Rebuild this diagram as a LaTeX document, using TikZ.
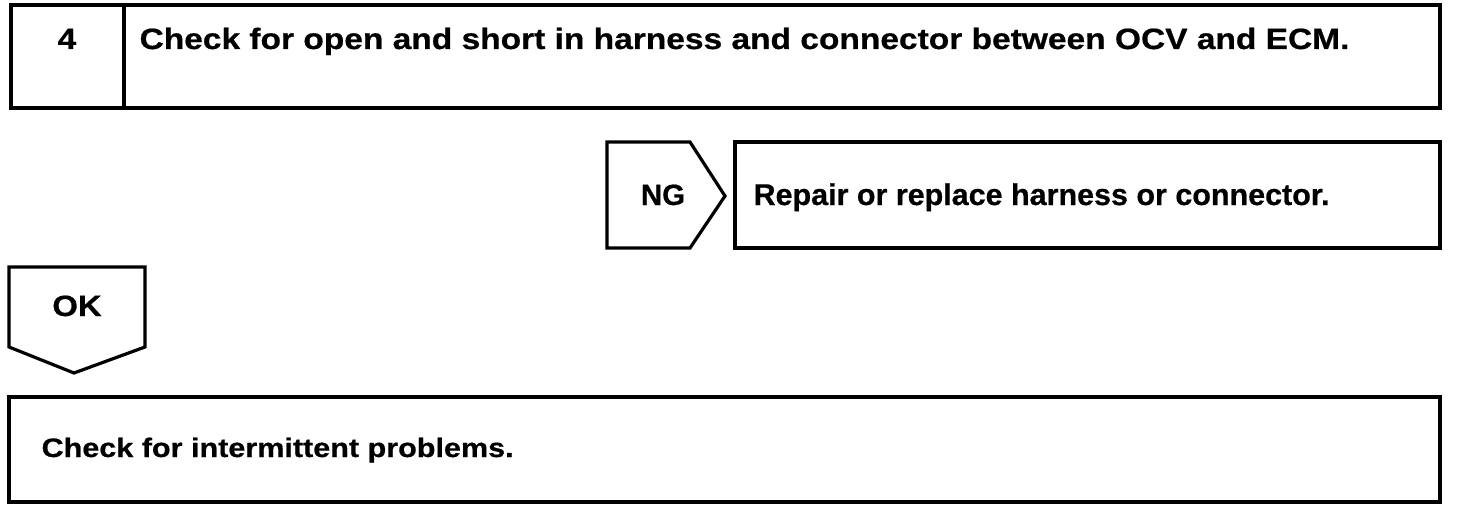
\documentclass[tikz,border=0pt]{standalone}
\usepackage{graphicx}
\usepackage{fontspec}
\setmainfont{Liberation Sans}[BoldFeatures={FakeBold=0.6}]
\begin{document}
\begin{tikzpicture}[x=0.75pt, y=-0.75pt, line width=2.4pt,
    bigtext/.style={font=\bfseries\fontsize{22}{26}\selectfont, anchor=base west, inner sep=0pt},
    smalltext/.style={font=\bfseries\fontsize{20}{24}\selectfont, anchor=base west, inner sep=0pt}]
    \useasboundingbox (0, 0) rectangle (1472, 510);
    % step box
    \draw (11, 5) rectangle (1440, 108);
    \draw (124, 5) -- (124, 108);
    \node[bigtext, anchor=base] (stepnum) at (67, 49) {\scalebox{1.14}[1]{4}};
    \node[bigtext] (steptitle) at (138, 49) {\scalebox{1.142}[1]{Check for open and short in harness and connector between OCV and ECM.}};
    % NG branch
    \draw[line join=miter] (607, 142) -- (690, 142) -- (725, 196) -- (690, 248) -- (607, 248) -- cycle;
    \node[bigtext, anchor=base] (ng) at (663, 205) {NG};
    \draw (735, 142) rectangle (1440, 248);
    \node[bigtext, font=\bfseries\fontsize{22.5}{26}\selectfont] (repair) at (752, 205) {\scalebox{1.016}[1]{Repair or replace harness or connector.}};
    % OK branch
    \draw[line join=miter] (9, 267) -- (145, 267) -- (145, 347) -- (74, 373) -- (9, 347) -- cycle;
    \node[bigtext, anchor=base] (ok) at (77, 316) {\scalebox{1.12}[1]{OK}};
    \draw (9, 397) rectangle (1440, 502);
    \node[smalltext] (intermittent) at (40, 457) {\scalebox{1.146}[1]{Check for intermittent problems.}};
\end{tikzpicture}
\end{document}
